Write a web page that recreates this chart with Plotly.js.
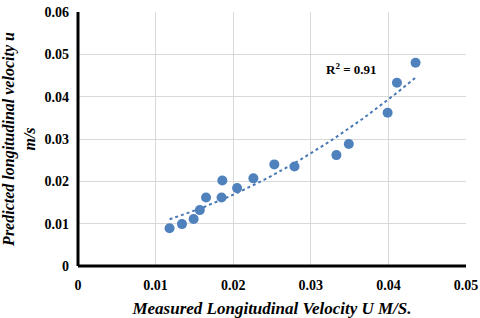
<!DOCTYPE html>
<html>
<head>
<meta charset="utf-8">
<script src="https://cdn.plot.ly/plotly-3.0.1.min.js"></script>
<style>html,body{margin:0;padding:0;background:#fff}#chart{width:480px;height:318px}</style>
</head>
<body>
<div id="chart"></div>
<script>
var measuredU = [0.0118, 0.0134, 0.0149, 0.0157, 0.0165, 0.0185, 0.0186, 0.0205, 0.0226, 0.0253, 0.0279, 0.0333, 0.0349, 0.0399, 0.0411, 0.0435];
var predictedU = [0.0089, 0.0099, 0.0111, 0.0132, 0.0162, 0.0162, 0.0202, 0.0184, 0.0207, 0.0240, 0.0235, 0.0262, 0.0288, 0.0362, 0.0433, 0.0480];
var xTicks = [0, 0.01, 0.02, 0.03, 0.04, 0.05];
var xTickLabels = ["0", "0.01", "0.02", "0.03", "0.04", "0.05"];
var yTicks = [0, 0.01, 0.02, 0.03, 0.04, 0.05, 0.06];
var yTickLabels = ["0", "0.01", "0.02", "0.03", "0.04", "0.05", "0.06"];
var r2Label = "R<sup>2</sup> = 0.91";

// quadratic least-squares trendline (as in a spreadsheet polynomial trendline)
function polyFit2(xs, ys) {
  var n = xs.length, S = [0,0,0,0,0], T = [0,0,0];
  for (var i = 0; i < n; i++) {
    var p = 1;
    for (var k = 0; k < 5; k++) { S[k] += p; if (k < 3) T[k] += p * ys[i]; p *= xs[i]; }
  }
  var A = [[S[0],S[1],S[2],T[0]],[S[1],S[2],S[3],T[1]],[S[2],S[3],S[4],T[2]]];
  for (var c = 0; c < 3; c++) {
    for (var r = c + 1; r < 3; r++) {
      var f = A[r][c] / A[c][c];
      for (var j = c; j < 4; j++) A[r][j] -= f * A[c][j];
    }
  }
  var b = [0,0,0];
  for (var r2 = 2; r2 >= 0; r2--) {
    var s = A[r2][3];
    for (var j2 = r2 + 1; j2 < 3; j2++) s -= A[r2][j2] * b[j2];
    b[r2] = s / A[r2][r2];
  }
  return b;
}
var coef = polyFit2(measuredU, predictedU);
var xmin = Math.min.apply(null, measuredU), xmax = Math.max.apply(null, measuredU);
var trendX = [], trendY = [];
for (var t = 0; t <= 60; t++) {
  var xv = xmin + (xmax - xmin) * t / 60;
  trendX.push(xv);
  trendY.push(coef[0] + coef[1] * xv + coef[2] * xv * xv);
}

var serif = "'Liberation Serif', 'Times New Roman', serif";
var data = [
  {x: trendX, y: trendY, mode: 'lines', type: 'scatter',
   line: {color: '#4a78b5', width: 2, dash: 'dot'}, hoverinfo: 'skip'},
  {x: measuredU, y: predictedU, mode: 'markers', type: 'scatter',
   marker: {color: '#4f81bd', size: 10}}
];
var layout = {
  width: 480, height: 318,
  margin: {l: 78, r: 14, t: 12, b: 52},
  showlegend: false,
  paper_bgcolor: '#fff', plot_bgcolor: '#fff',
  font: {family: serif, color: '#000'},
  xaxis: {
    range: [0, 0.05], tickvals: xTicks, ticktext: xTickLabels,
    showgrid: true, gridcolor: '#d9d9d9', gridwidth: 1,
    zeroline: false, showline: false, ticks: '', ticklabelstandoff: 9,
    tickfont: {family: serif, size: 14, color: '#000', weight: 'bold'},
    title: {text: '<b><i>Measured Longitudinal Velocity U M/S.</i></b>',
            font: {family: serif, size: 17, color: '#000'}, standoff: 12}
  },
  yaxis: {
    range: [0, 0.06], tickvals: yTicks, ticktext: yTickLabels,
    showgrid: true, gridcolor: '#d9d9d9', gridwidth: 1,
    zeroline: false, showline: false, ticks: '', ticklabelstandoff: 8,
    tickfont: {family: serif, size: 14, color: '#000', weight: 'bold'},
    title: {text: '<b><i>Predicted longitudinal velocity u<br>m/s</i></b>',
            font: {family: serif, size: 16, color: '#000'}, standoff: 6}
  },
  shapes: [
    {type: 'line', xref: 'paper', yref: 'paper', x0: 0, x1: 0, y0: 0, y1: 1,
     line: {color: '#000', width: 3}},
    {type: 'line', xref: 'paper', yref: 'paper', x0: 0, x1: 1, y0: 0, y1: 0,
     line: {color: '#000', width: 3}}
  ],
  annotations: [
    {x: 0.0352, y: 0.0466, xref: 'x', yref: 'y', text: '<b>' + r2Label + '</b>',
     showarrow: false, font: {family: serif, size: 13, color: '#000'}}
  ]
};
Plotly.newPlot('chart', data, layout, {displayModeBar: false, staticPlot: true});
</script>
</body>
</html>
